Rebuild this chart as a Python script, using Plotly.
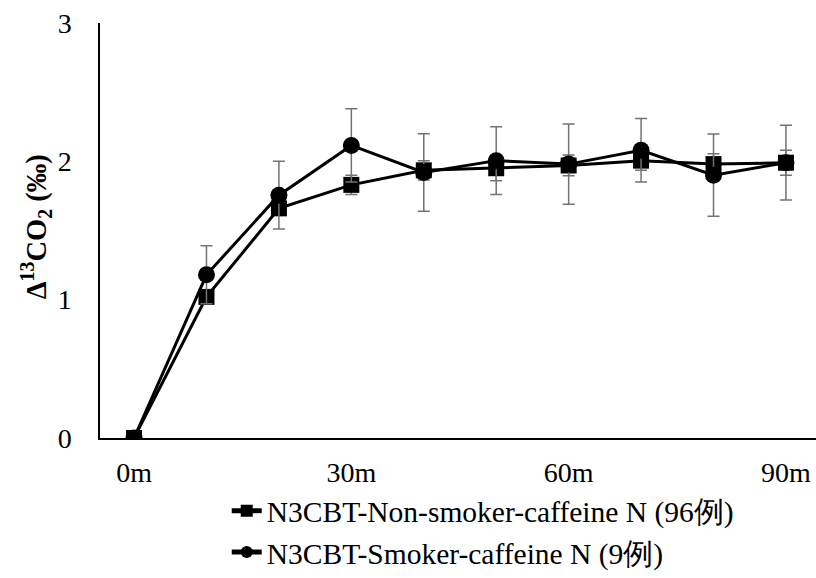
import plotly.graph_objects as go

minutes = [0, 10, 20, 30, 40, 50, 60, 70, 80, 90]
tick_vals = [0, 30, 60, 90]
tick_text = ["0m", "30m", "60m", "90m"]

nonsmoker = [0, 1.02, 1.66, 1.83, 1.935, 1.95, 1.97, 2.005, 1.98, 1.99]
nonsmoker_err = [0, 0.04, 0.05, 0.07, 0.07, 0.09, 0.075, 0.07, 0.075, 0.09]
smoker = [0, 1.18, 1.755, 2.115, 1.92, 2.005, 1.98, 2.08, 1.90, 1.99]
smoker_err = [0, 0.21, 0.245, 0.265, 0.28, 0.245, 0.29, 0.23, 0.297, 0.27]

name_ns = "N3CBT-Non-smoker-caffeine N (96例)"
name_s = "N3CBT-Smoker-caffeine N (9例)"

FONT = "Liberation Serif"

fig = go.Figure()
fig.add_trace(go.Scatter(
    x=minutes, y=nonsmoker, name=name_ns, mode="lines+markers",
    line=dict(color="black", width=3),
    marker=dict(symbol="square", size=16, color="black"),
    error_y=dict(type="data", array=nonsmoker_err, visible=True,
                 color="#737373", thickness=1.5, width=6),
))
fig.add_trace(go.Scatter(
    x=minutes, y=smoker, name=name_s, mode="lines+markers",
    line=dict(color="black", width=3),
    marker=dict(symbol="circle", size=17, color="black"),
    error_y=dict(type="data", array=smoker_err, visible=True,
                 color="#737373", thickness=1.5, width=6),
))

fig.update_layout(
    width=816, height=578,
    margin=dict(l=100, r=0, t=23, b=139),
    paper_bgcolor="white", plot_bgcolor="white",
    font=dict(family=FONT, size=28, color="black"),
    xaxis=dict(range=[-4.7, 94.15], tickvals=tick_vals, ticktext=tick_text,
               showgrid=False, zeroline=False, showline=True,
               linecolor="black", linewidth=1.5, ticks="",
               ticklabelstandoff=9, tickfont=dict(size=28, family=FONT)),
    yaxis=dict(range=[0, 3], tickvals=[0, 1, 2, 3], showgrid=False,
               zeroline=False, showline=True, linecolor="black",
               linewidth=1.5, ticks="", ticklabelstandoff=21,
               tickfont=dict(size=28, family=FONT)),
    showlegend=True,
    legend=dict(x=0.177, xanchor="left", y=-0.114, yanchor="top",
                orientation="v", font=dict(size=29.5, family=FONT),
                itemsizing="constant",
                bgcolor="rgba(0,0,0,0)"),
    annotations=[dict(
        text="<b>Δ<sup>13</sup>CO<sub>2</sub> (‰)</b>",
        xref="paper", yref="paper", x=-0.0894, y=0.51,
        xanchor="center", yanchor="middle", textangle=-90,
        showarrow=False, font=dict(size=28.5, family=FONT))],
)

fig.write_html("out.html")
